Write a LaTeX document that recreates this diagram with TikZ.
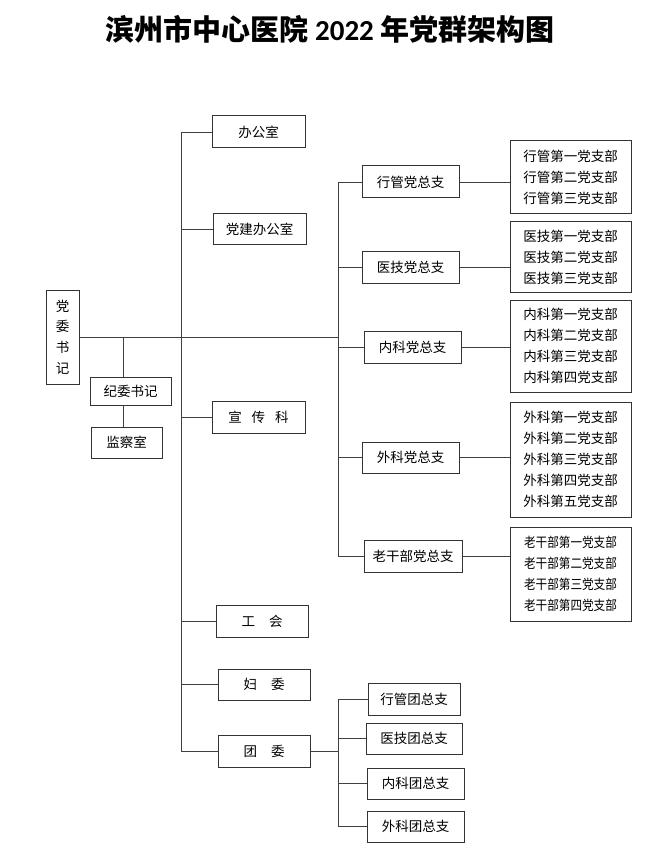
\documentclass[tikz,border=0pt]{standalone}
\usepackage{fontspec}
\setmainfont{Noto Sans CJK SC}
\newfontfamily\latinfont{Carlito}
\newfontfamily\narrowfont[FakeStretch=0.86]{Noto Sans CJK SC}
\begin{document}
\begin{tikzpicture}[x=1pt,y=-1pt,
	box/.style={draw=black!80, line width=1pt, inner sep=0pt, font=\fontsize{13.5}{21}\selectfont},
	sub/.style={box, align=center},
	link/.style={draw=black!75, line width=0.9pt}]
	\useasboundingbox (0,0) rectangle (657,866);
	\node (title) at (330,29) {\fontsize{29}{34}\selectfont\bfseries 滨州市中心医院 {\latinfont 2022} 年党群架构图};
	% party committee and discipline
	\node[box, minimum width=33, minimum height=94, align=center, font=\fontsize{13.5}{20.7}\selectfont] (dwsj) at (62.5,337) {党\\委\\书\\记};
	\node[box, minimum width=81, minimum height=28] (jwsj) at (130.5,391) {纪委书记};
	\node[box, minimum width=71, minimum height=31] (jcs) at (126.5,442.5) {监察室};
	% offices
	\node[box, minimum width=93, minimum height=32] (bgs) at (258.5,132) {办公室};
	\node[box, minimum width=93, minimum height=31] (djbgs) at (259.5,229.5) {党建办公室};
	\node[box, minimum width=93, minimum height=32] (xck) at (258.5,417) {宣\hspace{10pt}传\hspace{10pt}科};
	\node[box, minimum width=92, minimum height=32] (gh) at (262,621) {工\hspace{14pt}会};
	\node[box, minimum width=92, minimum height=31] (fw) at (264,684.5) {妇\hspace{14pt}委};
	\node[box, minimum width=92, minimum height=32] (tw) at (264,751) {团\hspace{14pt}委};
	% party general branches
	\node[box, minimum width=97, minimum height=32] (xgdzz) at (410.5,182) {行管党总支};
	\node[box, minimum width=97, minimum height=31] (yjdzz) at (410.5,267.5) {医技党总支};
	\node[box, minimum width=97, minimum height=32] (nkdzz) at (412.5,347) {内科党总支};
	\node[box, minimum width=97, minimum height=31] (wkdzz) at (410.5,457.5) {外科党总支};
	\node[box, minimum width=98, minimum height=32] (lgbdzz) at (413,556) {老干部党总支};
	% party branches
	\node[sub, minimum width=121, minimum height=73] (xgzb) at (570.5,177.5) {行管第一党支部\\行管第二党支部\\行管第三党支部};
	\node[sub, minimum width=121, minimum height=70] (yjzb) at (570.5,257) {医技第一党支部\\医技第二党支部\\医技第三党支部};
	\node[sub, minimum width=121, minimum height=92] (nkzb) at (570.5,346) {内科第一党支部\\内科第二党支部\\内科第三党支部\\内科第四党支部};
	\node[sub, minimum width=121, minimum height=115] (wkzb) at (570.5,459.5) {外科第一党支部\\外科第二党支部\\外科第三党支部\\外科第四党支部\\外科第五党支部};
	\node[sub, minimum width=121, minimum height=94, font=\fontsize{13.5}{21}\narrowfont] (lgbzb) at (570.5,574) {老干部第一党支部\\老干部第二党支部\\老干部第三党支部\\老干部第四党支部};
	% youth league branches
	\node[box, minimum width=92, minimum height=32] (xgtzz) at (414,699) {行管团总支};
	\node[box, minimum width=96, minimum height=31] (yjtzz) at (414,738.5) {医技团总支};
	\node[box, minimum width=97, minimum height=31] (nktzz) at (415.5,783.5) {内科团总支};
	\node[box, minimum width=97, minimum height=31] (wktzz) at (415.5,826.5) {外科团总支};
	% buses
	\coordinate (busa) at (181,0);
	\coordinate (busb) at (338,0);
	\coordinate (jv) at (123,0);
	\draw[link] (dwsj.east) -- (busb |- dwsj.east);
	\draw[link] (busa |- bgs.west) -- (busa |- tw.west);
	\draw[link] (busb |- xgdzz.west) -- (busb |- lgbdzz.west);
	\draw[link] (jv |- dwsj.east) -- (jv |- jwsj.north);
	\draw[link] (jv |- jwsj.south) -- (jv |- jcs.north);
	\foreach \n in {bgs,djbgs,xck,gh,fw,tw}
		\draw[link] (busa |- \n.west) -- (\n.west);
	\foreach \n/\m in {xgdzz/xgzb,yjdzz/yjzb,nkdzz/nkzb,wkdzz/wkzb,lgbdzz/lgbzb}{
		\draw[link] (busb |- \n.west) -- (\n.west);
		\draw[link] (\n.east) -- (\n.east -| \m.west);
	}
	\draw[link] (tw.east) -- (busb |- tw.east);
	\draw[link] (busb |- xgtzz.west) -- (busb |- wktzz.west);
	\foreach \n in {xgtzz,yjtzz,nktzz,wktzz}
		\draw[link] (busb |- \n.west) -- (\n.west);
\end{tikzpicture}
\end{document}
